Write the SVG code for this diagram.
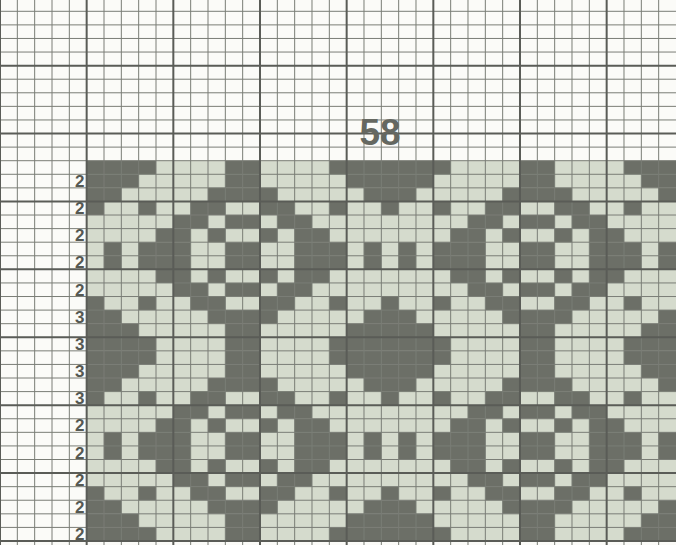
<svg xmlns="http://www.w3.org/2000/svg" width="676" height="545" viewBox="0 0 676 545">
<style>
.bg{fill:#fbfbf8}
.lt{fill:#d5dbcd}
.dk{fill:#6c6f67}
.g{fill:none;stroke:#7a7d76;stroke-width:1}
.gt{fill:none;stroke:#5a5c57;stroke-width:2}
.lbl{font-family:"Liberation Sans",Arial,sans-serif;font-weight:bold;font-size:17px;fill:#555852;text-anchor:end}
.title{font-family:"Liberation Sans",Arial,sans-serif;font-weight:bold;font-size:37px;fill:#656861;text-anchor:middle}
</style>
<defs>
<path id="r0" class="dk" d="M0 0h4v1h-4zM8 0h2v1h-2zM14 0h7v1h-7zM25 0h2v1h-2zM31 0h3v1h-3z"/>
<path id="r1" class="dk" d="M0 0h3v1h-3zM8 0h2v1h-2zM15 0h5v1h-5zM25 0h2v1h-2zM32 0h2v1h-2z"/>
<path id="r2" class="dk" d="M0 0h2v1h-2zM7 0h4v1h-4zM16 0h3v1h-3zM24 0h4v1h-4zM33 0h1v1h-1z"/>
<path id="r3" class="dk" d="M0 0h1v1h-1zM3 0h1v1h-1zM6 0h2v1h-2zM10 0h2v1h-2zM14 0h1v1h-1zM17 0h1v1h-1zM20 0h1v1h-1zM23 0h2v1h-2zM27 0h2v1h-2zM31 0h1v1h-1z"/>
<path id="r4" class="dk" d="M5 0h2v1h-2zM8 0h2v1h-2zM11 0h2v1h-2zM22 0h2v1h-2zM25 0h2v1h-2zM28 0h2v1h-2z"/>
<path id="r5" class="dk" d="M4 0h2v1h-2zM7 0h1v1h-1zM10 0h1v1h-1zM12 0h2v1h-2zM21 0h2v1h-2zM24 0h1v1h-1zM27 0h1v1h-1zM29 0h2v1h-2z"/>
<path id="r6" class="dk" d="M1 0h1v1h-1zM3 0h3v1h-3zM8 0h2v1h-2zM12 0h3v1h-3zM16 0h1v1h-1zM18 0h1v1h-1zM20 0h3v1h-3zM25 0h2v1h-2zM29 0h3v1h-3zM33 0h1v1h-1z"/>
</defs>
<rect class="bg" width="676" height="545"/>
<g id="chart" transform="translate(86.667,160.7) scale(17.3333,13.582)">
<rect class="lt" x="0" y="0" width="34" height="28"/>
<use href="#r0" y="0"/><use href="#r1" y="1"/><use href="#r2" y="2"/><use href="#r3" y="3"/>
<use href="#r4" y="4"/><use href="#r5" y="5"/><use href="#r6" y="6"/><use href="#r6" y="7"/>
<use href="#r5" y="8"/><use href="#r4" y="9"/><use href="#r3" y="10"/><use href="#r2" y="11"/>
<use href="#r1" y="12"/><use href="#r0" y="13"/>
<use href="#r0" y="14"/><use href="#r1" y="15"/><use href="#r2" y="16"/><use href="#r3" y="17"/>
<use href="#r4" y="18"/><use href="#r5" y="19"/><use href="#r6" y="20"/><use href="#r6" y="21"/>
<use href="#r5" y="22"/><use href="#r4" y="23"/><use href="#r3" y="24"/><use href="#r2" y="25"/>
<use href="#r1" y="26"/><use href="#r0" y="27"/>
</g>
<g id="grid" transform="translate(86.667,160.7) scale(17.3333,13.582)">
<path class="g" vector-effect="non-scaling-stroke" d="M-4 -12.5V28.4M-3 -12.5V28.4M-2 -12.5V28.4M-1 -12.5V28.4M1 -12.5V28.4M2 -12.5V28.4M3 -12.5V28.4M4 -12.5V28.4M6 -12.5V28.4M7 -12.5V28.4M8 -12.5V28.4M9 -12.5V28.4M11 -12.5V28.4M12 -12.5V28.4M13 -12.5V28.4M14 -12.5V28.4M16 -12.5V28.4M17 -12.5V28.4M18 -12.5V28.4M19 -12.5V28.4M21 -12.5V28.4M22 -12.5V28.4M23 -12.5V28.4M24 -12.5V28.4M26 -12.5V28.4M27 -12.5V28.4M28 -12.5V28.4M29 -12.5V28.4M31 -12.5V28.4M32 -12.5V28.4M33 -12.5V28.4M-5 -11H34M-5 -10H34M-5 -9H34M-5 -8H34M-5 -6H34M-5 -5H34M-5 -4H34M-5 -3H34M-5 -1H34M-5 0H34M-5 1H34M-5 2H34M-5 4H34M-5 5H34M-5 6H34M-5 7H34M-5 9H34M-5 10H34M-5 11H34M-5 12H34M-5 14H34M-5 15H34M-5 16H34M-5 17H34M-5 19H34M-5 20H34M-5 21H34M-5 22H34M-5 24H34M-5 25H34M-5 26H34M-5 27H34"/>
<path class="gt" vector-effect="non-scaling-stroke" d="M-5 -12.5V28.4M0 -12.5V28.4M5 -12.5V28.4M10 -12.5V28.4M15 -12.5V28.4M20 -12.5V28.4M25 -12.5V28.4M30 -12.5V28.4M-5 -7H34M-5 -2H34M-5 3H34M-5 8H34M-5 13H34M-5 18H34M-5 23H34M-5 28H34"/>
</g>
<g id="labels">
<text class="lbl" x="84.5" y="186.9">2</text>
<text class="lbl" x="84.5" y="214.0">2</text>
<text class="lbl" x="84.5" y="241.2">2</text>
<text class="lbl" x="84.5" y="268.4">2</text>
<text class="lbl" x="84.5" y="295.5">2</text>
<text class="lbl" x="84.5" y="322.7">3</text>
<text class="lbl" x="84.5" y="349.9">3</text>
<text class="lbl" x="84.5" y="377.0">3</text>
<text class="lbl" x="84.5" y="404.2">3</text>
<text class="lbl" x="84.5" y="431.3">2</text>
<text class="lbl" x="84.5" y="458.5">2</text>
<text class="lbl" x="84.5" y="485.7">2</text>
<text class="lbl" x="84.5" y="512.8">2</text>
<text class="lbl" x="84.5" y="540.0">2</text>
</g>
<text id="title" class="title" x="380" y="144.5">58</text>
</svg>
